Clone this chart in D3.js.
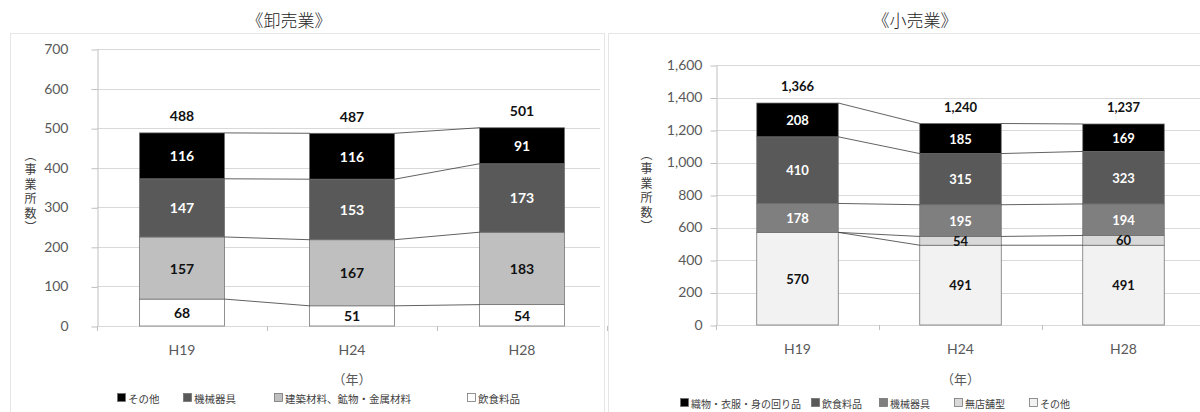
<!DOCTYPE html>
<html>
<head>
<meta charset="utf-8">
<script src="https://cdn.jsdelivr.net/npm/d3@7"></script>
<style>
  html, body { margin: 0; padding: 0; background: #fff; }
  #wrap { position: relative; width: 1200px; height: 412px; overflow: hidden; }
  svg { display: block; }
  text { font-family: Lato, "Noto Sans CJK JP", sans-serif; }
  .jp { font-family: "Noto Sans CJK JP", sans-serif; }
  .ytitle {
    position: absolute;
    font-family: "Noto Sans CJK JP", sans-serif;
    font-size: 12px; line-height: 12px; color: #404040;
    writing-mode: vertical-rl; text-orientation: upright;
    letter-spacing: 2.5px; white-space: nowrap;
  }
</style>
</head>
<body>
<div id="wrap">
<svg id="chart" width="1200" height="412"></svg>
</div>
<script>
// Survey years (categories, shared by both panels)
const years = ["H19", "H24", "H28"];

// 卸売業 — establishments by kind, stacked bottom to top
const wsFood  = [68, 51, 54];     // 飲食料品
const wsBuild = [157, 167, 183];  // 建築材料、鉱物・金属材料
const wsMach  = [147, 153, 173];  // 機械器具
const wsOther = [116, 116, 91];   // その他
const wsTotal = [488, 487, 501];
const wsTicks = [0, 100, 200, 300, 400, 500, 600, 700];

// 小売業 — establishments by kind, stacked bottom to top
const rtOther    = [570, 491, 491]; // その他
const rtNonStore = [0, 54, 60];     // 無店舗型
const rtMach     = [178, 195, 194]; // 機械器具
const rtFood     = [410, 315, 323]; // 飲食料品
const rtTextile  = [208, 185, 169]; // 織物・衣服・身の回り品
const rtTotal    = [1366, 1240, 1237];
const rtTicks = [0, 200, 400, 600, 800, 1000, 1200, 1400, 1600];

const yTitleText = "（事業所数）";

const svg = d3.select("#chart");
const wrap = d3.select("#wrap");

function drawPanel(cfg) {
  const g = svg.append("g");

  const x = d3.scaleBand().domain(years)
    .range(cfg.xRange).paddingInner(0.5).paddingOuter(0.25);
  const y = d3.scaleLinear().domain([0, cfg.max]).range(cfg.yRange);
  const bw = x.bandwidth();

  const keys = cfg.series.map(s => s.key);
  const rows = years.map((yr, i) => {
    const r = { year: yr };
    cfg.series.forEach(s => { r[s.key] = s.values[i]; });
    return r;
  });
  const layers = d3.stack().keys(keys)(rows);

  // panel frame
  g.append("rect")
    .attr("x", cfg.frame[0] + 0.5).attr("y", cfg.frame[1] + 0.5)
    .attr("width", cfg.frame[2] - cfg.frame[0]).attr("height", cfg.frame[3] - cfg.frame[1])
    .attr("fill", "none").attr("stroke", "#e6e6e6");

  // horizontal gridlines
  g.selectAll("line.grid").data(cfg.ticks).join("line")
    .attr("class", "grid")
    .attr("x1", cfg.xRange[0]).attr("x2", cfg.gridEnd)
    .attr("y1", d => Math.round(y(d)) + 0.5).attr("y2", d => Math.round(y(d)) + 0.5)
    .attr("stroke", "#d9d9d9").attr("stroke-width", 1);

  // value axis
  const yAxis = d3.axisLeft(y).tickValues(cfg.ticks).tickFormat(d3.format(cfg.fmt))
    .tickSize(6).tickSizeOuter(0).tickPadding(cfg.tickPad);
  const ya = g.append("g")
    .attr("transform", `translate(${Math.round(cfg.xRange[0]) + 0.5},0)`)
    .call(yAxis);
  ya.select(".domain").attr("stroke", "#bfbfbf");
  ya.selectAll(".tick line").attr("stroke", "#bfbfbf")
    .attr("transform", "translate(0,0.5)");
  ya.selectAll(".tick text")
    .attr("fill", "#595959").style("font-size", "14px")
    .style("font-family", "Lato, sans-serif");

  // category axis
  const xAxis = d3.axisBottom(x).tickSize(0).tickPadding(19);
  const xa = g.append("g").attr("transform", `translate(0,${y(0)})`).call(xAxis);
  xa.select(".domain").remove();
  xa.selectAll(".tick text")
    .attr("fill", "#595959").style("font-size", "14px")
    .style("font-family", "Lato, sans-serif");
  // category boundary ticks
  g.selectAll("line.ctick").data(d3.range(years.length + 1)).join("line")
    .attr("class", "ctick")
    .attr("x1", i => Math.round(cfg.xRange[0] + i * x.step()) + 0.5)
    .attr("x2", i => Math.round(cfg.xRange[0] + i * x.step()) + 0.5)
    .attr("y1", y(0)).attr("y2", y(0) + 5)
    .attr("stroke", "#bfbfbf");

  // stacked bars
  layers.forEach((layer, li) => {
    const s = cfg.series[li];
    g.append("g").selectAll("rect").data(layer).join("rect")
      .attr("x", d => x(d.data.year))
      .attr("y", d => y(d[1]))
      .attr("width", bw)
      .attr("height", d => y(d[0]) - y(d[1]))
      .attr("fill", s.fill)
      .attr("stroke", "#6f6f6f").attr("stroke-width", 0.75);
  });

  // series lines joining segment tops between neighbouring bars
  layers.forEach(layer => {
    for (let i = 0; i < layer.length - 1; i++) {
      g.append("line")
        .attr("x1", x(years[i]) + bw).attr("y1", y(layer[i][1]))
        .attr("x2", x(years[i + 1])).attr("y2", y(layer[i + 1][1]))
        .attr("stroke", "#3a3a3a").attr("stroke-width", 0.8);
    }
  });

  // segment value labels
  layers.forEach((layer, li) => {
    const s = cfg.series[li];
    g.append("g").selectAll("text").data(layer.filter(d => d[1] - d[0] > 0)).join("text")
      .attr("x", d => x(d.data.year) + bw / 2)
      .attr("y", d => y((d[0] + d[1]) / 2))
      .attr("text-anchor", "middle").attr("dominant-baseline", "central")
      .attr("fill", s.labelColor)
      .style("font-size", cfg.valueSize + "px").style("font-weight", "bold")
      .text(d => d3.format(",")(d[1] - d[0]));
  });

  // totals above bars
  g.append("g").selectAll("text").data(years).join("text")
    .attr("x", d => x(d) + bw / 2)
    .attr("y", (d, i) => y(cfg.totals[i]) - 17)
    .attr("text-anchor", "middle").attr("dominant-baseline", "central")
    .attr("fill", "#111")
    .style("font-size", cfg.valueSize + "px").style("font-weight", "bold")
    .text((d, i) => d3.format(",")(cfg.totals[i]));

  // panel title
  g.append("text").attr("class", "jp")
    .attr("x", cfg.titleX).attr("y", cfg.titleY)
    .attr("text-anchor", "middle").attr("dominant-baseline", "central")
    .attr("fill", "#222").style("font-size", "17px").style("font-weight", 300)
    .text(cfg.title);

  // value axis title, written vertically
  wrap.append("div").attr("class", "ytitle")
    .style("left", (cfg.yTitle[0] - 6) + "px")
    .style("top", cfg.yTitle[1] + "px")
    .text(yTitleText);

  // category axis unit
  g.append("text").attr("class", "jp")
    .attr("x", x(years[1]) + bw / 2).attr("y", cfg.unitY)
    .attr("text-anchor", "middle").attr("dominant-baseline", "central")
    .attr("fill", "#595959").style("font-size", "13px")
    .text("（年）");

  // legend: top series first
  const legendItems = cfg.series.slice().reverse();
  const lg = g.append("g").selectAll("g").data(legendItems).join("g")
    .attr("transform", (d, i) => `translate(${cfg.legendX[i]},${cfg.legendY})`);
  lg.append("rect")
    .attr("x", 0.5).attr("y", -4.5).attr("width", 8).attr("height", 8)
    .attr("fill", d => d.fill).attr("stroke", "#6f6f6f").attr("stroke-width", 0.75);
  lg.append("text").attr("class", "jp")
    .attr("x", 11).attr("y", 0).attr("dominant-baseline", "central")
    .attr("fill", "#404040").style("font-size", cfg.legendSize + "px")
    .text(d => d.name);
}

drawPanel({
  title: "《卸売業》", titleX: 289, titleY: 19,
  frame: [10, 33, 604, 420],
  xRange: [97, 607], yRange: [326, 49], gridEnd: 600, max: 700,
  ticks: wsTicks, fmt: "d", tickPad: 23,
  valueSize: 14,
  yTitle: [30, 149],
  unitY: 378, legendY: 398, legendSize: 10.5,
  legendX: [117, 183, 274, 467],
  totals: wsTotal,
  series: [
    { key: "food",  name: "飲食料品", values: wsFood,  fill: "#ffffff", labelColor: "#111" },
    { key: "build", name: "建築材料、鉱物・金属材料", values: wsBuild, fill: "#bfbfbf", labelColor: "#111" },
    { key: "mach",  name: "機械器具", values: wsMach,  fill: "#595959", labelColor: "#fff" },
    { key: "other", name: "その他",   values: wsOther, fill: "#000000", labelColor: "#fff" }
  ]
});

drawPanel({
  title: "《小売業》", titleX: 915, titleY: 19,
  frame: [608, 33, 1210, 420],
  xRange: [716, 1205], yRange: [325, 65], gridEnd: 1205, max: 1600,
  ticks: rtTicks, fmt: ",", tickPad: 8,
  valueSize: 13,
  yTitle: [646, 148],
  unitY: 378, legendY: 403, legendSize: 10,
  legendX: [680, 811, 879, 954, 1029],
  totals: rtTotal,
  series: [
    { key: "other",    name: "その他", values: rtOther,    fill: "#f2f2f2", labelColor: "#111" },
    { key: "nonstore", name: "無店舗型", values: rtNonStore, fill: "#d9d9d9", labelColor: "#111" },
    { key: "mach",     name: "機械器具", values: rtMach,     fill: "#7f7f7f", labelColor: "#fff" },
    { key: "food",     name: "飲食料品", values: rtFood,     fill: "#595959", labelColor: "#fff" },
    { key: "textile",  name: "織物・衣服・身の回り品", values: rtTextile, fill: "#000000", labelColor: "#fff" }
  ]
});
</script>
</body>
</html>
